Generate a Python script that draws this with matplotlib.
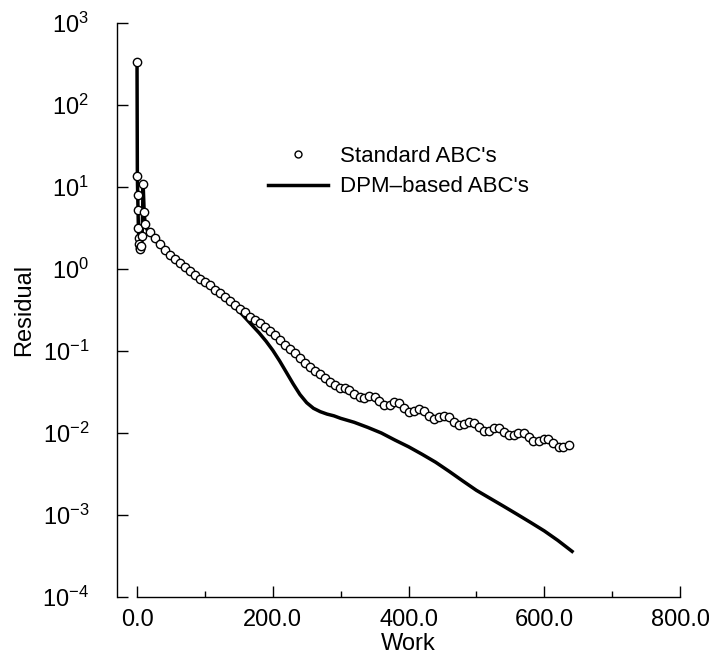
import numpy as np
import matplotlib
matplotlib.use('Agg')
import matplotlib.pyplot as plt
from matplotlib.legend_handler import HandlerLine2D

# start-up transient (shared by both runs)
x_start = [0.0, 0.5, 1.0, 1.5, 2.0, 2.5, 3.0, 4.0, 5.0, 6.0, 7.5, 9.0, 10.5, 12.0]
r_start = [330, 13.5, 8.0, 5.2, 3.2, 2.4, 2.0, 1.8, 1.75, 1.9, 2.5, 11.0, 5.0, 3.5]

# Standard ABC's (circles)
x_std = [19, 27, 34, 41, 49, 56, 63, 71, 78, 86, 93, 100, 107, 115, 122, 129, 137, 144,
         152, 159, 166, 174, 181, 188, 196, 203, 211, 218, 225, 233, 240, 247, 255, 262,
         269, 277, 284, 291, 299, 306, 313, 320, 328, 335, 342, 350, 357, 364, 372, 379,
         386, 394, 401, 408, 416, 423, 430, 438, 445, 452, 460, 467, 474, 482, 489, 496,
         504, 511, 518, 526, 533, 540, 548, 555, 562, 570, 577, 584, 592, 599, 606, 613,
         621, 628, 636]
r_std = [2.82, 2.40, 2.00, 1.70, 1.48, 1.32, 1.17, 1.05, 0.955, 0.851, 0.759, 0.692, 0.631,
         0.562, 0.513, 0.457, 0.407, 0.363, 0.324, 0.295, 0.263, 0.240, 0.219, 0.195, 0.174,
         0.155, 0.135, 0.120, 0.107, 0.0933, 0.0813, 0.0724, 0.0646, 0.0575, 0.0525, 0.0468,
         0.0417, 0.0380, 0.0355, 0.0355, 0.0339, 0.0302, 0.0275, 0.0269, 0.0282, 0.0275,
         0.0245, 0.0219, 0.0219, 0.0240, 0.0234, 0.0204, 0.0182, 0.0186, 0.0195, 0.0186,
         0.0162, 0.0148, 0.0155, 0.0162, 0.0155, 0.0138, 0.0126, 0.0129, 0.0135, 0.0132,
         0.0117, 0.0107, 0.0107, 0.0115, 0.0115, 0.0102, 0.00933, 0.00933, 0.0100, 0.0100,
         0.00891, 0.00794, 0.00794, 0.00851, 0.00851, 0.00759, 0.00676, 0.00676, 0.00708]

# DPM-based ABC's (solid line)
x_dpm = [15, 20, 30, 40, 50, 60, 70, 80, 90, 100, 110, 120, 130, 140, 150, 160, 170, 180,
         190, 200, 210, 220, 230, 240, 250, 260, 270, 280, 290, 300, 320, 340, 360, 380,
         400, 420, 440, 460, 480, 500, 520, 540, 560, 580, 600, 620, 641]
r_dpm = [3.0, 2.7, 2.1, 1.74, 1.45, 1.25, 1.07, 0.93, 0.79, 0.69, 0.60, 0.52, 0.45, 0.363,
         0.309, 0.251, 0.204, 0.166, 0.132, 0.102, 0.0759, 0.0550, 0.0398, 0.0295, 0.0234,
         0.0200, 0.0182, 0.0170, 0.0162, 0.0151, 0.0135, 0.0117, 0.0100, 0.0082, 0.0068,
         0.0055, 0.0044, 0.0034, 0.0026, 0.0020, 0.00160, 0.00128, 0.00102, 0.00081,
         0.00064, 0.00049, 0.00036]

plt.rcParams['font.family'] = ['Liberation Sans', 'DejaVu Sans']
plt.rcParams['mathtext.fontset'] = 'custom'
plt.rcParams['mathtext.rm'] = 'Liberation Sans'
plt.rcParams['mathtext.default'] = 'regular'

fs = 17


class EndMarkerHandler(HandlerLine2D):
    # put the legend marker at the right end of the handle
    def get_xdata(self, legend, xdescent, ydescent, width, height, fontsize):
        xd, _ = super().get_xdata(legend, xdescent, ydescent, width, height, fontsize)
        return xd, np.array([-xdescent + width - 0.08 * width])


fig = plt.figure(figsize=(7.09, 6.63), dpi=100)
ax = fig.add_axes([117/709, 1 - 597/663, (680 - 117)/709, (597 - 23)/663])

xs = np.array(x_start + x_std)
rs = np.array(r_start + r_std)
xd = np.array(x_start + x_dpm)
rd = np.array(r_start + r_dpm)

ax.plot(xd, rd, color='black', lw=2.5, label="DPM\u2013based ABC's", zorder=2)
ax.plot(xs, rs, ls='none', marker='o', ms=6, mfc='white', mec='black', mew=1.0,
        label="Standard ABC's", zorder=3)

ax.set_yscale('log')
ax.set_xlim(-29.5, 800)
ax.set_ylim(1e-4, 1e3)
ax.set_yticks([1e-4, 1e-3, 1e-2, 1e-1, 1e0, 1e1, 1e2, 1e3])
ax.yaxis.set_minor_locator(matplotlib.ticker.NullLocator())
ax.set_xticks([0, 200, 400, 600, 800])
ax.set_xticklabels(['0.0', '200.0', '400.0', '600.0', '800.0'])
ax.set_xticks([100, 300, 500, 700], minor=True)

ax.spines['top'].set_visible(False)
ax.spines['right'].set_visible(False)
ax.spines['bottom'].set_bounds(0, 800)
ax.spines['left'].set_bounds(1e-4, 1e3)
for s in ['bottom', 'left']:
    ax.spines[s].set_linewidth(1.0)

ax.tick_params(axis='both', which='major', direction='in', length=8, width=1.0,
               labelsize=fs)
ax.tick_params(axis='x', which='minor', direction='in', length=4, width=1.0)
ax.tick_params(axis='y', pad=20)
ax.tick_params(axis='x', pad=9)

ax.set_xlabel('Work', fontsize=fs)
ax.xaxis.set_label_coords(0.517, -0.063)
ax.set_ylabel('Residual', fontsize=fs)
ax.yaxis.set_label_coords(-0.145, 0.5)

h, l = ax.get_legend_handles_labels()
leg = ax.legend([h[1], h[0]], [l[1], l[0]], loc='center left',
                bbox_to_anchor=(268/709, 1 - 171.5/663), bbox_transform=fig.transFigure,
                frameon=False, fontsize=16, borderpad=0, borderaxespad=0,
                handlelength=2.7, handletextpad=0.55, labelspacing=0.45,
                handler_map={h[1]: EndMarkerHandler(numpoints=1)})
leg.legend_handles[0].set_markersize(5)

fig.savefig('out.png', dpi=100)
